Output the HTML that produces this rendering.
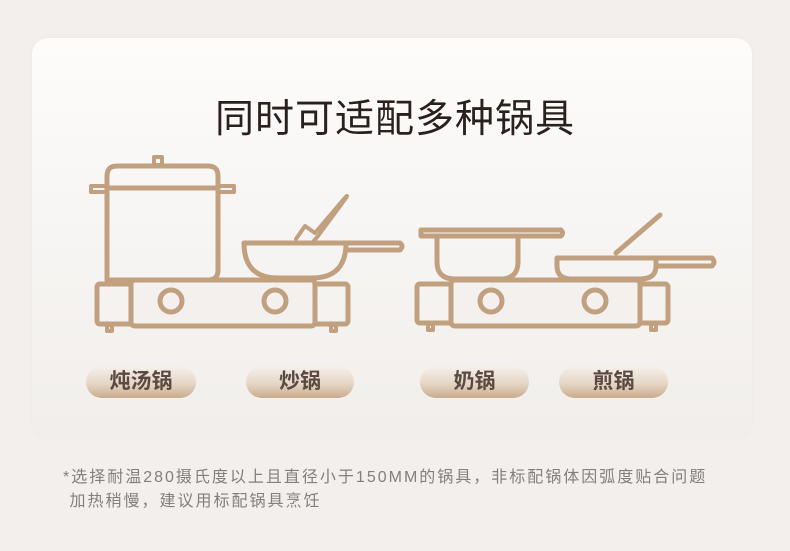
<!DOCTYPE html>
<html><head><meta charset="utf-8"><style>
html,body{margin:0;padding:0;width:790px;height:551px;background:#f3efec;overflow:hidden;font-family:"Liberation Sans","Noto Sans CJK SC",sans-serif}
.card{position:absolute;left:32px;top:38px;width:720px;height:399px;border-radius:16px;background:linear-gradient(180deg,#fdfcfb 0%,#f1eeeb 100%);box-shadow:0 0 6px rgba(0,0,0,0.03)}
.title{position:absolute;left:0;width:790px;top:88px;text-align:center;font-size:39px;color:#2a201d;letter-spacing:1px}
.pill{position:absolute;height:32px;border-radius:16px;background:linear-gradient(180deg,#f6f1ec 0%,#e6d6c6 55%,#c8ab8d 100%);text-align:center;line-height:32px;font-size:21px;font-weight:bold;color:#5a4a42}
.note{position:absolute;left:63px;font-size:16px;letter-spacing:2px;color:#857e7a;white-space:nowrap}
svg{position:absolute;left:0;top:0}
</style></head><body>
<div class="card"></div>
<div class="title">同时可适配多种锅具</div>
<svg width="790" height="551" fill="none" stroke="#c0a07f" stroke-width="5" stroke-linejoin="round" stroke-linecap="round">
<rect x="97" y="284" width="251" height="40" rx="3"/>
<rect x="131" y="280" width="184" height="46" rx="4" fill="#f3f0ed"/>
<circle cx="171" cy="301" r="11"/><circle cx="275" cy="301" r="11"/>
<rect x="107" y="325" width="5" height="6" stroke-width="4"/><rect x="331" y="325" width="5" height="6" stroke-width="4"/>
<path d="M107 280 V176 Q107 166 117 166 H208 Q218 166 218 176 V270 Q218 280 208 280 Z"/>
<line x1="107" y1="188" x2="218" y2="188"/>
<rect x="91" y="186" width="16" height="6" stroke-width="4"/><rect x="218" y="186" width="16" height="6" stroke-width="4"/>
<rect x="154" y="157" width="8" height="8" stroke-width="4"/>
<path d="M244 243 H346 Q346 278 312 278 H278 Q244 278 244 243 Z"/>
<path d="M346 243 H400 Q404 246 400 250 H346"/>
<path d="M296 239 L305 226 L315 233 L343 200 Q349 193 346 198 L318 236 L312 243" stroke-width="4"/>
<rect x="417" y="284" width="251" height="39" rx="3"/>
<rect x="451" y="280" width="189" height="46" rx="4" fill="#f3f0ed"/>
<circle cx="491" cy="301" r="11"/><circle cx="595" cy="301" r="11"/>
<rect x="428" y="324" width="5" height="6" stroke-width="4"/><rect x="651" y="324" width="5" height="6" stroke-width="4"/>
<path d="M421 230 H561 Q564 233 561 236 H421 Z"/>
<path d="M437 236 V262 Q437 279 455 279 H500 Q518 279 518 262 V236"/>
<path d="M557 258 H656 V266 Q656 279 640 279 H572 Q557 279 557 266 Z"/>
<path d="M656 258 H712 Q716 262 712 266 H656"/>
<path d="M616 253 L660 215" stroke-width="5"/>
</svg>
<div class="pill" style="left:86px;top:366px;width:110px">炖汤锅</div>
<div class="pill" style="left:246px;top:366px;width:108px">炒锅</div>
<div class="pill" style="left:420px;top:366px;width:109px">奶锅</div>
<div class="pill" style="left:559px;top:366px;width:109px">煎锅</div>
<div class="note" style="top:463px">*选择耐温280摄氏度以上且直径小于150MM的锅具，非标配锅体因弧度贴合问题</div>
<div class="note" style="top:487px">&nbsp;加热稍慢，建议用标配锅具烹饪</div>
</body></html>
